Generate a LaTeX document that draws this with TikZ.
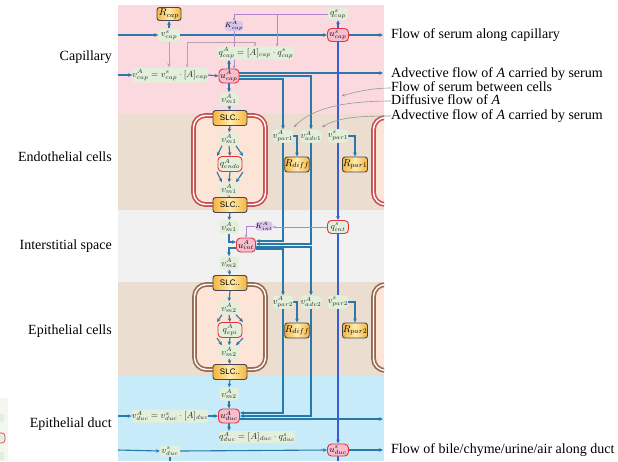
\documentclass[tikz,border=0pt]{standalone}
\usepackage{fontspec}
\setmainfont{Liberation Serif}
\setsansfont{Liberation Sans}
\usetikzlibrary{arrows.meta,calc}
\pgfdeclarelayer{back}\pgfdeclarelayer{mid}
\pgfsetlayers{back,mid,main}
\definecolor{bandPink}{RGB}{250,218,222}
\definecolor{bandTan}{RGB}{235,222,208}
\definecolor{bandGrey}{RGB}{241,241,241}
\definecolor{bandBlue}{RGB}{200,235,249}
\definecolor{cellFill}{RGB}{252,228,214}
\definecolor{cellRed}{RGB}{200,80,80}
\definecolor{cellBrown}{RGB}{150,105,80}
\definecolor{grn}{RGB}{226,239,218}
\definecolor{lav}{RGB}{216,196,232}
\definecolor{pinkF}{RGB}{248,190,205}
\definecolor{redB}{RGB}{230,50,60}
\definecolor{orgD}{RGB}{245,180,60}
\definecolor{orgL}{RGB}{255,236,175}
\definecolor{obord}{RGB}{70,70,80}
\definecolor{flowA}{RGB}{40,120,170}
\definecolor{serum}{RGB}{55,95,210}
\definecolor{purp}{RGB}{175,135,205}
\definecolor{greyPink}{RGB}{190,160,170}
\definecolor{annGrey}{RGB}{150,150,150}
\definecolor{legbg}{RGB}{244,246,242}
\tikzset{
  gbox/.style={fill=grn, rounded corners=3pt, inner sep=0pt, minimum height=13pt, minimum width=19pt, text=black!85, font=\fontsize{9}{10}\selectfont},
  rgbox/.style={gbox, draw=redB, line width=0.9pt, rounded corners=4pt},
  obox/.style={draw=obord, line width=0.9pt, rounded corners=2.5pt, left color=orgD, right color=orgD, middle color=orgL, inner sep=0pt, minimum height=15pt, font=\fontsize{10}{11}\selectfont},
  slcbox/.style={obox, minimum width=34pt, minimum height=15pt, font=\sffamily\fontsize{8}{9}\selectfont},
  rbox/.style={draw=redB, line width=0.9pt, fill=pinkF, rounded corners=4pt, inner sep=0pt, minimum height=14pt, minimum width=20pt, font=\fontsize{9}{10}\selectfont},
  pbox/.style={fill=lav, rounded corners=3pt, inner sep=0pt, minimum height=10pt, minimum width=17pt, font=\fontsize{7.5}{8}\selectfont},
  tip/.style={-{Stealth[length=4pt,width=3.6pt]}},
  fa/.style={draw=flowA, line width=1.1pt, tip},
  faplain/.style={draw=flowA, line width=1.1pt},
  fs/.style={draw=serum, line width=1.1pt, tip},
  fsplain/.style={draw=serum, line width=1.1pt},
  pl/.style={draw=purp, line width=0.6pt, -{Stealth[length=3pt,width=2.6pt]}},
  gl/.style={draw=greyPink, line width=0.7pt},
  ann/.style={draw=annGrey, line width=0.6pt, -{Stealth[length=3.5pt,width=2.8pt]}},
  lab/.style={font=\fontsize{14}{13}\selectfont, inner sep=0pt, text height=9pt, text depth=3pt},
  cellE/.style={draw=cellRed, line width=1.7pt, double=white, double distance=1.4pt, fill=cellFill, rounded corners=12pt},
  cellP/.style={draw=cellBrown, line width=1.7pt, double=white, double distance=1.4pt, fill=cellFill, rounded corners=12pt}
}
\begin{document}
\begin{tikzpicture}[x=1pt,y=-1pt]
\useasboundingbox (0,0) rectangle (618,461);

% ---------- background bands and cells
\begin{pgfonlayer}{back}
\fill[bandPink] (118,5) rectangle (384,114);
\fill[bandTan]  (118,114) rectangle (384,210);
\fill[bandGrey] (118,210) rectangle (384,282);
\fill[bandTan]  (118,282) rectangle (384,376);
\fill[bandBlue] (118,376) rectangle (384,461);
\draw[cellE] (193.5,115.5) rectangle (265.5,204.5);
\draw[cellP] (194.5,284.5) rectangle (265.5,369.5);
\begin{scope}
  \clip (118,0) rectangle (384,461);
  \draw[cellE] (373.5,117.5) rectangle (440,204.5);
  \draw[cellP] (373.5,284.5) rectangle (440,370.5);
\end{scope}
% cropped legend at the left edge
\fill[legbg] (0,398) rectangle (8,461);
\fill[grn, rounded corners=2pt] (-8,414) rectangle (4,422);
\draw[redB, fill=grn, line width=0.6pt, rounded corners=3pt] (-8,433) rectangle (5,443);
\fill[grn, rounded corners=2pt] (-8,452) rectangle (4,460);
\end{pgfonlayer}

% ---------- labels
\node[lab, anchor=east] (lcap) at (112,57) {Capillary};
\node[lab, anchor=east] (lendo) at (112,158) {Endothelial cells};
\node[lab, anchor=east] (lint) at (112,246) {Interstitial space};
\node[lab, anchor=east] (lepi) at (112,331) {Epithelial cells};
\node[lab, anchor=east] (lduc) at (112,424) {Epithelial duct};

\node[lab, anchor=west] (t1) at (391,35) {Flow of serum along capillary};
\node[lab, anchor=west] (t2) at (391,74) {Advective flow of \textit{A} carried by serum};
\node[lab, anchor=west] (t3) at (391,88) {Flow of serum between cells};
\node[lab, anchor=west] (t4) at (391,101) {Diffusive flow of \textit{A}};
\node[lab, anchor=west] (t5) at (391,116) {Advective flow of \textit{A} carried by serum};
\node[lab, anchor=west] (t6) at (391,450) {Flow of bile/chyme/urine/air along duct};

% ---------- capillary nodes
\node[obox, minimum width=24pt, minimum height=13pt] (Rcap) at (169,14) {$R_{cap}$};
\node[gbox, minimum width=21pt] (vscap) at (169,35) {$v^{s}_{cap}$};
\node[pbox] (KAcap) at (234,26) {$K^{A}_{cap}$};
\node[gbox, minimum width=20pt, minimum height=12pt] (qscap) at (338,14) {$q^{s}_{cap}$};
\node[rbox, minimum width=21pt, minimum height=13pt] (uscap) at (338,35) {$u^{s}_{cap}$};
\node[gbox, minimum width=76pt] (qAcap) at (256,53) {$q^{A}_{cap}=[A]_{cap}\cdot q^{s}_{cap}$};
\node[gbox, minimum width=70pt, minimum height=15pt] (vAcap) at (170,75) {$v^{A}_{cap}=v^{s}_{cap}\cdot[A]_{cap}$};
\node[rbox] (uAcap) at (229,76) {$u^{A}_{cap}$};
\node[gbox] (vm1a) at (229,99) {$v^{A}_{m1}$};

% ---------- endothelial
\node[slcbox] (slc1) at (230,118) {SLC..};
\node[gbox] (vm1b) at (229,139) {$v^{A}_{m1}$};
\node[rgbox, minimum width=24pt, minimum height=15pt] (qendo) at (230,164) {$q^{A}_{endo}$};
\node[gbox] (vm1c) at (229,189) {$v^{A}_{m1}$};
\node[slcbox] (slc2) at (230,205) {SLC..};
\node[gbox] (vApar1) at (283,136) {$v^{A}_{par1}$};
\node[gbox] (vAadv1) at (311,136) {$v^{A}_{adv1}$};
\node[gbox] (vspar1) at (338,136) {$v^{s}_{par1}$};
\node[obox, minimum width=22pt] (Rdiff1) at (297,164.5) {$R_{diff}$};
\node[obox, minimum width=25pt] (Rpar1) at (355,164.5) {$R_{par1}$};

% ---------- interstitial
\node[gbox] (vm1d) at (229,227) {$v^{A}_{m1}$};
\node[rbox, minimum width=19pt] (uAint) at (246,245) {$u^{A}_{int}$};
\node[pbox, minimum width=17pt, minimum height=9pt] (KAint) at (264,226) {$K^{A}_{int}$};
\node[rgbox, minimum width=21pt] (qsint) at (338,227) {$q^{s}_{int}$};
\node[gbox] (vm2a) at (229,263) {$v^{A}_{m2}$};

% ---------- epithelial
\node[slcbox] (slc3) at (230,283) {SLC..};
\node[gbox] (vm2b) at (229,308) {$v^{A}_{m2}$};
\node[rgbox, minimum width=24pt, minimum height=15pt] (qepi) at (230,330) {$q^{A}_{epi}$};
\node[gbox] (vm2c) at (229,352) {$v^{A}_{m2}$};
\node[slcbox] (slc4) at (230,372) {SLC..};
\node[gbox] (vApar2) at (283,302) {$v^{A}_{par2}$};
\node[gbox] (vAadv2) at (311,302) {$v^{A}_{adv2}$};
\node[gbox] (vspar2) at (338,302) {$v^{s}_{par2}$};
\node[obox, minimum width=22pt] (Rdiff2) at (297,330.5) {$R_{diff}$};
\node[obox, minimum width=25pt] (Rpar2) at (355,330.5) {$R_{par2}$};

% ---------- duct
\node[gbox] (vm2d) at (229,394) {$v^{A}_{m2}$};
\node[gbox, minimum width=75pt] (vAduc) at (170,416) {$v^{A}_{duc}=v^{s}_{duc}\cdot[A]_{duc}$};
\node[rbox, minimum width=21pt] (uAduc) at (229,416) {$u^{A}_{duc}$};
\node[gbox, minimum width=76pt, minimum height=12pt] (qAduc) at (257,437) {$q^{A}_{duc}=[A]_{duc}\cdot q^{s}_{duc}$};
\node[gbox, minimum width=20pt, minimum height=11pt] (vsduc) at (170,451) {$v^{s}_{duc}$};
\node[rbox, minimum width=21pt, minimum height=12pt] (usduc) at (338,450) {$u^{s}_{duc}$};

% ---------- free ends
\coordinate (inCap) at (118,35);
\coordinate (outCap) at (383,35);
\coordinate (inCapA) at (118,75);
\coordinate (outCapA) at (383,73);
\coordinate (purpTee) at (277,14);
\coordinate (inDucA) at (118,416);
\coordinate (outDucA) at (383,419);
\coordinate (inDuc) at (118,450);
\coordinate (outDuc) at (383,450);
\coordinate (endDucS) at (338,461);
\coordinate (endDucV) at (170,461);
\coordinate (pinkL) at (187,67.5);
\coordinate (pinkR) at (255,46.5);
\coordinate (serumPt) at (341.5,96);

\begin{pgfonlayer}{mid}
% capillary
\draw[fa] (inCap) -- (vscap.west);
\draw[fa] (vscap.east) -- (uscap.west);
\draw[fa] (uscap.east) -- (outCap);
\draw[fa] (vscap.north) -- (Rcap.south);
\draw[gl, tip] (vscap.south) -- (vscap.south |- vAcap.north);
\draw[fa] (inCapA) -- (vAcap.west);
\draw[fa] (vAcap.east) -- (uAcap.west);
\draw[fa] (uAcap.north) -- (uAcap.north |- qAcap.south);
\draw[fa] (uAcap.south) -- (vm1a.north);
\draw[fa] (vm1a.south) -- (slc1.north);
\draw[fs] (uscap.north) -- (qscap.south);
% purple / pink control lines
\draw[pl] (qscap.west) -| (KAcap.north);
\draw[pl] (KAcap.south) -- (KAcap.south |- uAcap.north);
\draw[pl] (purpTee) -- (purpTee |- qAcap.north);
\draw[gl, {Stealth[length=3pt,width=2.6pt]}-{Stealth[length=3pt,width=2.6pt]}] (pinkL) -- (187,42) -- (255,42) -- (pinkR);
% bundle of A flows
\draw[fa] ([yshift=3pt]uAcap.east) -- (outCapA);
\draw[fa] (uAcap.east) -| (vAadv1.north);
\draw[fa] ([yshift=-3pt]uAcap.east) -| (vApar1.north);
\draw[fa] (vApar1.south) |- ([yshift=4pt]uAint.east);
\draw[fa] (vAadv1.south) |- ([yshift=1pt]uAint.east);
\draw[fa] ([yshift=-2pt]uAint.east) -| (vAadv2.north);
\draw[fa] ([yshift=-4pt]uAint.east) -| (vApar2.north);
\draw[fa] (vApar2.south) |- ([yshift=3pt]uAduc.east);
\draw[fa] (vAadv2.south) |- (uAduc.east);
\draw[fa] ([yshift=-3pt]uAduc.east) -- (outDucA);
\draw[fa] (vApar1.east) -| (Rdiff1.north);
\draw[fa] (vspar1.east) -| (Rpar1.north);
\draw[fa] (vApar2.east) -| (Rdiff2.north);
\draw[fa] (vspar2.east) -| (Rpar2.north);
% serum between cells
\draw[fsplain] (uscap.south) -- (vspar1.north);
\draw[fs] (vspar1.south) -- (qsint.north);
\draw[fsplain] (qsint.south) -- (vspar2.north);
\draw[fs] (vspar2.south) -- (usduc.north);
\draw[fsplain] (usduc.south) -- (endDucS);
% endothelial cell
\draw[fa] (slc1.south) -- (vm1b.north);
\draw[fa] (vm1b.south) -- (qendo.north);
\draw[fa] ([xshift=-7pt]vm1b.south) -- ([xshift=-13pt]qendo.north);
\draw[fa] ([xshift=7pt]vm1b.south) -- ([xshift=13pt]qendo.north);
\draw[fa] (qendo.south) -- (vm1c.north);
\draw[fa] ([xshift=-13pt]qendo.south) -- ([xshift=-7pt]vm1c.north);
\draw[fa] ([xshift=13pt]qendo.south) -- ([xshift=7pt]vm1c.north);
\draw[fa] (vm1c.south) -- (slc2.north);
% interstitial
\draw[fa] (slc2.south) -- (vm1d.north);
\draw[fa] (vm1d.south) |- ([yshift=3pt]uAint.west);
\draw[fa] ([yshift=-3pt]uAint.west) -| (vm2a.north);
\draw[pl] (KAint.west) -| (uAint.north);
\draw[pl] (qsint.west) -- (qsint.west -| KAint.east);
\draw[fa] (vm2a.south) -- (slc3.north);
% epithelial cell
\draw[fa] (slc3.south) -- (vm2b.north);
\draw[fa] (vm2b.south) -- (qepi.north);
\draw[fa] ([xshift=-7pt]vm2b.south) -- ([xshift=-13pt]qepi.north);
\draw[fa] ([xshift=7pt]vm2b.south) -- ([xshift=13pt]qepi.north);
\draw[fa] (qepi.south) -- (vm2c.north);
\draw[fa] ([xshift=-13pt]qepi.south) -- ([xshift=-7pt]vm2c.north);
\draw[fa] ([xshift=13pt]qepi.south) -- ([xshift=7pt]vm2c.north);
\draw[fa] (vm2c.south) -- (slc4.north);
% duct
\draw[fa] (slc4.south) -- (vm2d.north);
\draw[fa] (vm2d.south) -- (uAduc.north);
\draw[fa] (uAduc.south) -- (uAduc.south |- qAduc.north);
\draw[fa] (inDucA) -- (vAduc.west);
\draw[fa] (vAduc.east) -- (uAduc.west);
\draw[fa] (inDuc) -- (vsduc.west);
\draw[fa] (vsduc.east) -- (usduc.west);
\draw[fa] (usduc.east) -- (outDuc);
\draw[faplain] (vsduc.south) -- (endDucV);
% annotation pointers
\draw[ann] (t3.west) .. controls (372,88) and (355,92) .. (serumPt);
\draw[ann] (t4.west) .. controls (345,101) and (312,108) .. ([shift={(0.5pt,2pt)}]vApar1.north east);
\draw[ann] (t5.west) .. controls (362,116) and (338,117) .. ([shift={(0.5pt,2pt)}]vAadv1.north east);
\end{pgfonlayer}
\end{tikzpicture}
\end{document}
